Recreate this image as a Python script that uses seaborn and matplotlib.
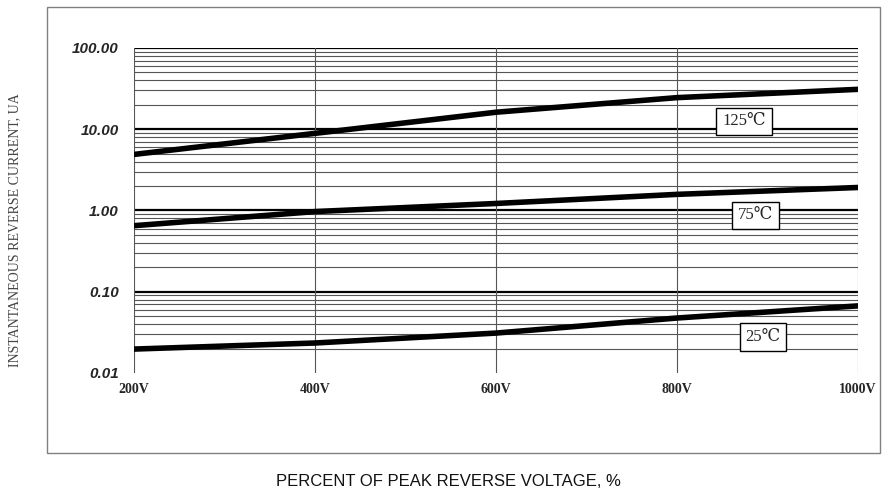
import numpy as np
import pandas as pd
import matplotlib
matplotlib.use("Agg")
import matplotlib.pyplot as plt
import seaborn as sns
from matplotlib.patches import Rectangle

# Data
voltages = [200, 400, 600, 800, 1000]
x_tick_labels = ["200V", "400V", "600V", "800V", "1000V"]
y_ticks = [0.01, 0.1, 1, 10, 100]
y_tick_labels = ["0.01", "0.10", "1.00", "10.00", "100.00"]
current_125 = [4.9, 8.9, 16.2, 24.5, 31.0]
current_75 = [0.65, 0.97, 1.22, 1.58, 1.92]
current_25 = [0.0197, 0.0234, 0.031, 0.0475, 0.067]
series_names = ["125℃", "75℃", "25℃"]
label_pos = [(874, 12.5), (887, 0.87), (895, 0.0278)]

df = pd.DataFrame({
    "V": voltages * 3,
    "I": current_125 + current_75 + current_25,
    "T": [series_names[0]] * 5 + [series_names[1]] * 5 + [series_names[2]] * 5,
})

sns.set_style("white")
fig = plt.figure(figsize=(8.89, 4.98), dpi=100)
ax = fig.add_axes([134/889, 1-373/498, (858-134)/889, (373-48)/498])

# outer frame
fig.patches.append(Rectangle((47/889, 1-453/498), 833/889, 446/498,
                             transform=fig.transFigure, fill=False,
                             edgecolor="#808080", linewidth=1.0))

ax.set_yscale("log")
ax.set_xlim(200, 1000)
ax.set_ylim(0.01, 100)

# grid lines
for d in [0.01, 0.1, 1, 10]:
    for m in range(2, 10):
        ax.axhline(d * m, color="#555555", linewidth=0.8, zorder=1)
for d in [0.1, 1, 10, 100]:
    ax.axhline(d, color="black", linewidth=1.6, zorder=1)
for v in voltages:
    ax.axvline(v, color="#555555", linewidth=0.8, zorder=1)

sns.lineplot(data=df, x="V", y="I", hue="T", palette=["black"] * 3,
             linewidth=4, legend=False, ax=ax, zorder=3)

for s in ax.spines.values():
    s.set_visible(False)

ax.set_xticks(voltages)
ax.set_xticklabels(x_tick_labels, fontfamily=["Liberation Serif", "DejaVu Serif"],
                   fontweight="bold", fontsize=10)
ax.set_yticks(y_ticks)
ax.set_yticklabels(y_tick_labels, fontfamily="Liberation Sans", fontweight="bold",
                   fontstyle="italic", fontsize=11)
ax.minorticks_off()
ax.tick_params(axis="y", length=0, pad=11)
ax.tick_params(axis="x", length=0, pad=7)
ax.set_xlabel("")
ax.set_ylabel("")

for name, (xv, yv) in zip(series_names, label_pos):
    ax.text(xv, yv, name, ha="center", va="center", fontsize=12,
            fontfamily=["Liberation Serif", "DejaVu Serif"], zorder=5,
            bbox=dict(boxstyle="square,pad=0.35", facecolor="white",
                      edgecolor="black", linewidth=1.0))

fig.text(15/889, 1-230/498, "INSTANTANEOUS REVERSE CURRENT, UA", rotation=90,
         ha="center", va="center", fontsize=10,
         fontfamily=["Liberation Serif", "DejaVu Serif"], color="#444444")
fig.text(448/889, 1-481/498, "PERCENT OF PEAK REVERSE VOLTAGE, %", ha="center",
         va="center", fontsize=12,
         fontfamily=["Liberation Sans Narrow", "Liberation Sans"], color="#111111")

fig.savefig("out.png", dpi=100)
